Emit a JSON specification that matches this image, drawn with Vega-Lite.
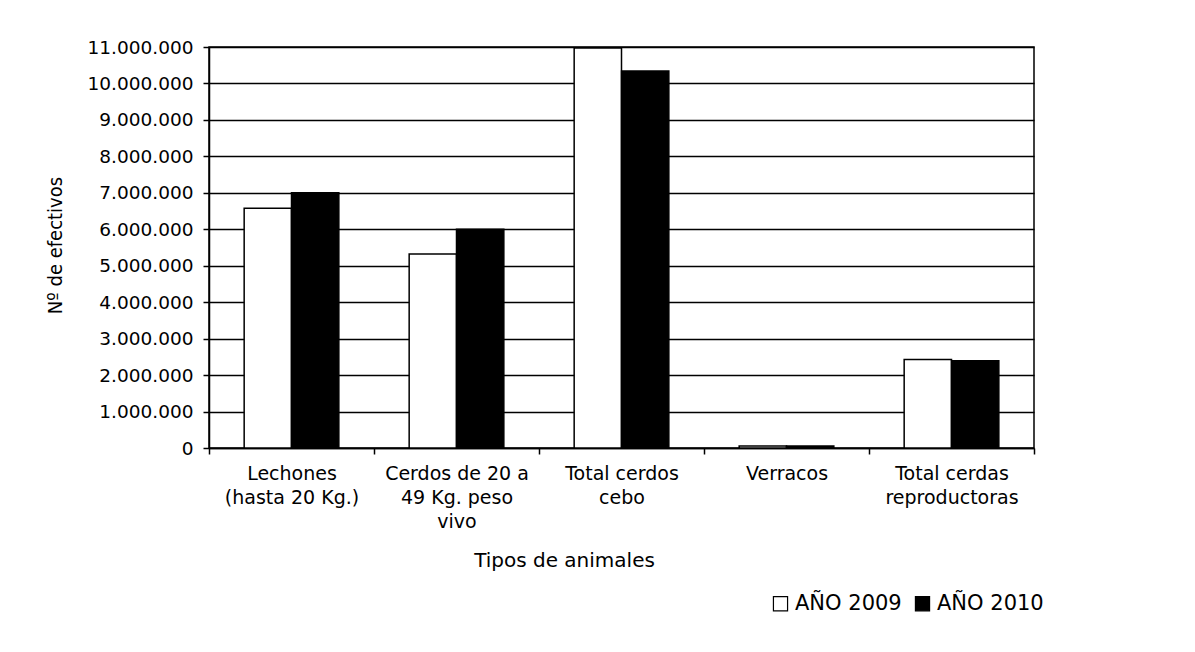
{
  "$schema": "https://vega.github.io/schema/vega-lite/v6.json",
  "autosize": {"type": "none"},
  "padding": {"left": 209, "top": 47, "right": 161, "bottom": 204},
  "width": 825,
  "height": 401,
  "background": "white",
  "config": {
    "locale": {"number": {"decimal": ",", "thousands": ".", "grouping": [3], "currency": ["", " €"]}},
    "view": {"stroke": "black", "strokeWidth": 1.5},
    "font": "DejaVu Sans"
  },
  "data": {
    "values": [
      {"tipo": "Lechones (hasta 20 Kg.)", "serie": "AÑO 2009", "valor": 6580000},
      {"tipo": "Lechones (hasta 20 Kg.)", "serie": "AÑO 2010", "valor": 7000000},
      {"tipo": "Cerdos de 20 a 49 Kg. peso vivo", "serie": "AÑO 2009", "valor": 5320000},
      {"tipo": "Cerdos de 20 a 49 Kg. peso vivo", "serie": "AÑO 2010", "valor": 6000000},
      {"tipo": "Total cerdos cebo", "serie": "AÑO 2009", "valor": 10970000},
      {"tipo": "Total cerdos cebo", "serie": "AÑO 2010", "valor": 10340000},
      {"tipo": "Verracos", "serie": "AÑO 2009", "valor": 55000},
      {"tipo": "Verracos", "serie": "AÑO 2010", "valor": 52000},
      {"tipo": "Total cerdas reproductoras", "serie": "AÑO 2009", "valor": 2430000},
      {"tipo": "Total cerdas reproductoras", "serie": "AÑO 2010", "valor": 2390000}
    ]
  },
  "mark": {"type": "bar", "stroke": "black", "strokeWidth": 1.5},
  "encoding": {
    "x": {
      "field": "tipo",
      "type": "nominal",
      "sort": null,
      "scale": {"paddingInner": 0, "paddingOuter": 0},
      "axis": {
        "title": "Tipos de animales",
        "titleFont": "DejaVu Sans",
        "titleFontSize": 20,
        "titleFontWeight": "normal",
        "titleColor": "black",
        "titleX": 355,
        "titleY": 112,
        "titleBaseline": "middle",
        "labelAngle": 0,
        "labelFont": "DejaVu Sans",
        "labelFontSize": 19,
        "labelColor": "black",
        "labelPadding": 10,
        "labelLineHeight": 24,
        "labelLimit": 200,
        "labelExpr": "datum.value == 'Lechones (hasta 20 Kg.)' ? ['Lechones', '(hasta 20 Kg.)'] : datum.value == 'Cerdos de 20 a 49 Kg. peso vivo' ? ['Cerdos de 20 a', '49 Kg. peso', 'vivo'] : datum.value == 'Total cerdos cebo' ? ['Total cerdos', 'cebo'] : datum.value == 'Total cerdas reproductoras' ? ['Total cerdas', 'reproductoras'] : datum.value",
        "tickBand": "extent",
        "tickColor": "black",
        "tickSize": 6,
        "tickWidth": 1.5,
        "domainColor": "black",
        "domainWidth": 1.5,
        "grid": false
      }
    },
    "xOffset": {
      "field": "serie",
      "type": "nominal",
      "scale": {"paddingInner": 0, "paddingOuter": 0.743}
    },
    "y": {
      "field": "valor",
      "type": "quantitative",
      "scale": {"domain": [0, 11000000], "nice": false},
      "axis": {
        "values": [0, 1000000, 2000000, 3000000, 4000000, 5000000, 6000000, 7000000, 8000000, 9000000, 10000000, 11000000],
        "format": ",d",
        "title": "Nº de efectivos",
        "titleFont": "DejaVu Sans Condensed",
        "titleFontSize": 20,
        "titleFontWeight": "normal",
        "titleColor": "black",
        "titleX": -154,
        "titleY": 198,
        "titleAngle": -90,
        "titleAlign": "center",
        "titleBaseline": "middle",
        "labelFont": "DejaVu Sans",
        "labelFontSize": 18.5,
        "labelColor": "black",
        "labelPadding": 10,
        "tickColor": "black",
        "tickSize": 6,
        "tickWidth": 1.5,
        "domainColor": "black",
        "domainWidth": 1.5,
        "grid": true,
        "gridColor": "black",
        "gridWidth": 1.5,
        "gridOpacity": 1
      }
    },
    "fill": {
      "field": "serie",
      "type": "nominal",
      "scale": {"domain": ["AÑO 2009", "AÑO 2010"], "range": ["white", "black"]},
      "legend": {
        "title": null,
        "orient": "none",
        "direction": "horizontal",
        "legendX": 561,
        "legendY": 546,
        "symbolType": "square",
        "symbolSize": 200,
        "symbolStrokeColor": "black",
        "symbolStrokeWidth": 1.2,
        "labelFont": "DejaVu Sans",
        "labelFontSize": 21,
        "labelColor": "black",
        "labelOffset": 4,
        "columnPadding": 10,
        "symbolOffset": 0
      }
    }
  }
}
